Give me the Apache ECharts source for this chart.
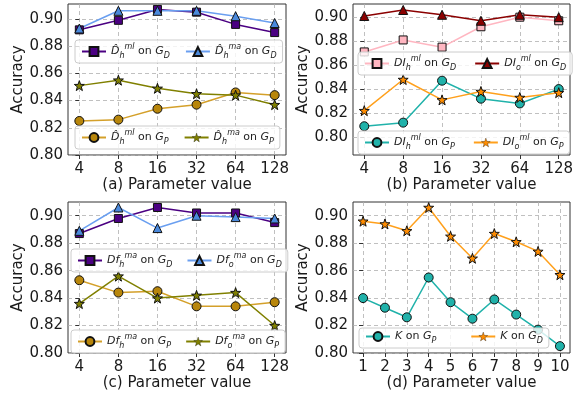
<!DOCTYPE html>
<html>
<head>
<meta charset="utf-8">
<script src="https://cdn.jsdelivr.net/npm/echarts@6/dist/echarts.min.js"></script>
<style>
  html, body { margin: 0; padding: 0; background: #fff; }
  #chart { width: 585px; height: 396px; }
</style>
</head>
<body>
<div id="chart"></div>
<script>
// x categories
const paramCats = ["4", "8", "16", "32", "64", "128"];
const kCats = ["1", "2", "3", "4", "5", "6", "7", "8", "9", "10"];
const yTicks = [0.80, 0.82, 0.84, 0.86, 0.88, 0.90];

// (a)
const aMlGD = [0.892, 0.899, 0.907, 0.905, 0.896, 0.890];
const aMaGD = [0.893, 0.906, 0.906, 0.906, 0.902, 0.897];
const aMlGP = [0.825, 0.826, 0.834, 0.837, 0.846, 0.844];
const aMaGP = [0.851, 0.855, 0.849, 0.845, 0.844, 0.837];
// (b)
const bHGD = [0.871, 0.881, 0.875, 0.892, 0.900, 0.897];
const bOGD = [0.901, 0.906, 0.902, 0.897, 0.902, 0.900];
const bHGP = [0.809, 0.812, 0.847, 0.832, 0.828, 0.840];
const bOGP = [0.822, 0.848, 0.831, 0.838, 0.833, 0.837];
// (c)
const cHGD = [0.887, 0.898, 0.906, 0.902, 0.902, 0.895];
const cOGD = [0.889, 0.906, 0.891, 0.900, 0.899, 0.898];
const cHGP = [0.853, 0.844, 0.845, 0.834, 0.834, 0.837];
const cOGP = [0.836, 0.856, 0.840, 0.842, 0.844, 0.820];
// (d)
const dGP = [0.840, 0.833, 0.826, 0.855, 0.837, 0.825, 0.839, 0.828, 0.817, 0.805];
const dGD = [0.896, 0.894, 0.889, 0.906, 0.885, 0.869, 0.887, 0.881, 0.874, 0.857];

const STAR = "path://M0,-10L2.35,-3.24L9.51,-3.09L3.8,1.24L5.88,8.09L0,4L-5.88,8.09L-3.8,1.24L-9.51,-3.09L-2.35,-3.24Z";
const FONT = "DejaVu Sans";

const chart = echarts.init(document.getElementById("chart"));

// legend label pieces: [base, sub, sup, graph]
const labels = {
  "a1": ["D\u0302", "h", "ml", "D"], "a2": ["D\u0302", "h", "ma", "D"],
  "a3": ["D\u0302", "h", "ml", "P"], "a4": ["D\u0302", "h", "ma", "P"],
  "b1": ["DI", "h", "ml", "D"], "b2": ["DI", "o", "ml", "D"],
  "b3": ["DI", "h", "ml", "P"], "b4": ["DI", "o", "ml", "P"],
  "c1": ["Df", "h", "ma", "D"], "c2": ["Df", "o", "ma", "D"],
  "c3": ["Df", "h", "ma", "P"], "c4": ["Df", "o", "ma", "P"],
  "d1": ["K", "", "", "P"], "d2": ["K", "", "", "D"]
};
function fmtLegend(name) {
  const p = labels[name];
  let s = "{i|" + p[0] + "}";
  if (p[1]) s += "{sub|" + p[1] + "}{sup|" + p[2] + "}";
  return s + "{n| on }{i|G}{sub|" + p[3] + "}";
}

const rich = {
  i: { fontFamily: FONT, fontStyle: "italic", fontSize: 11, lineHeight: 17, color: "#222" },
  n: { fontFamily: FONT, fontSize: 11, lineHeight: 17, color: "#222" },
  sub: { fontFamily: FONT, fontStyle: "italic", fontSize: 8, lineHeight: 8, verticalAlign: "bottom", color: "#222" },
  sup: { fontFamily: FONT, fontStyle: "italic", fontSize: 8, lineHeight: 8, verticalAlign: "top", color: "#222" }
};

const grids = [
  { left: 68, right: 299, top: 4, bottom: 241 },
  { left: 353, right: 15, top: 4, bottom: 241 },
  { left: 68, right: 299, top: 202, bottom: 43 },
  { left: 353, right: 15, top: 202, bottom: 43 }
].map(g => Object.assign(g, { show: true, borderColor: "#333", borderWidth: 1, backgroundColor: "transparent" }));

const gridLine = { show: true, lineStyle: { color: "#b0b0b0", type: [4, 3], width: 0.8 } };

function xAxis(idx, cats, pad, title) {
  const vals = cats.map((c, i) => i);
  return {
    type: "value", gridIndex: idx,
    min: -pad, max: cats.length - 1 + pad,
    axisLine: { show: false },
    axisTick: { show: true, length: 4, customValues: vals, lineStyle: { color: "#333" } },
    axisLabel: { customValues: vals, formatter: v => cats[Math.round(v)], fontFamily: FONT, fontSize: 15, color: "#1a1a1a", margin: 7 },
    splitLine: gridLine,
    name: title, nameLocation: "middle", nameGap: 23,
    nameTextStyle: { fontFamily: FONT, fontSize: 15, color: "#1a1a1a" }
  };
}
function yAxis(idx, min, max) {
  return {
    type: "value", gridIndex: idx, min: min, max: max,
    axisLine: { show: false },
    axisTick: { show: true, length: 4, customValues: yTicks, lineStyle: { color: "#333" } },
    axisLabel: { customValues: yTicks, formatter: v => v.toFixed(2), fontFamily: FONT, fontSize: 15, color: "#1a1a1a", margin: 5 },
    splitLine: gridLine,
    name: "Accuracy", nameLocation: "middle", nameGap: 37,
    nameTextStyle: { fontFamily: FONT, fontSize: 15, color: "#1a1a1a" }
  };
}

function line(name, idx, data, color, face, symbol, size) {
  return {
    name: name, type: "line", xAxisIndex: idx, yAxisIndex: idx,
    data: data.map((v, i) => [i, v]),
    symbol: symbol, symbolSize: size,
    lineStyle: { color: color, width: 1.5 },
    itemStyle: { color: face, borderColor: "#111", borderWidth: 1 },
    emphasis: { disabled: true },
    z: 3
  };
}

// star legend icons get a thinner outline (path icons scale their stroke)
function item(name) {
  const star = ["a4", "b4", "c4", "d2"].indexOf(name) >= 0;
  return star ? { name: name, itemStyle: { borderWidth: 0.35 } } : { name: name };
}

function legend(names, left, top, gap) {
  return {
    data: names.map(item), left: left, top: top,
    orient: "horizontal", itemGap: gap, itemWidth: 24, itemHeight: 11,
    padding: [3, 6, 3, 6],
    backgroundColor: "rgba(255,255,255,0.8)", borderColor: "#ccc", borderWidth: 1, borderRadius: 3,
    formatter: fmtLegend,
    textStyle: { rich: rich },
    selectedMode: false
  };
}

const INDIGO = "#4B0082", BLUE_L = "#6a9ff0", BLUE_F = "#4a89dc";
const GOLD_L = "#d4a02a", GOLD_F = "#b8860b", OLIVE = "#808000";
const DRED = "#8B0000", PINK = "#FFB6C1", TEAL = "#20B2AA", ORANGE_L = "#FFA01c", ORANGE_F = "#FF8C00";

const option = {
  backgroundColor: "#fff",
  animation: false,
  grid: grids,
  xAxis: [
    xAxis(0, paramCats, 0.29, "(a) Parameter value"),
    xAxis(1, paramCats, 0.29, "(b) Parameter value"),
    xAxis(2, paramCats, 0.29, "(c) Parameter value"),
    xAxis(3, kCats, 0.46, "(d) Parameter value")
  ],
  yAxis: [
    yAxis(0, 0.80, 0.911),
    yAxis(1, 0.785, 0.911),
    yAxis(2, 0.80, 0.910),
    yAxis(3, 0.80, 0.910)
  ],
  legend: [
    legend(["a1", "a2"], 75, 40, 15),
    legend(["a3", "a4"], 75, 126, 15),
    legend(["b1", "b2"], 358, 52, 18),
    legend(["b3", "b4"], 358, 131, 18),
    legend(["c1", "c2"], 71, 249, 14),
    legend(["c3", "c4"], 71, 330, 14),
    legend(["d1", "d2"], 359, 328, 34)
  ],
  series: [
    line("a1", 0, aMlGD, INDIGO, INDIGO, "rect", 8),
    line("a2", 0, aMaGD, BLUE_L, BLUE_F, "triangle", 9),
    line("a3", 0, aMlGP, GOLD_L, GOLD_F, "circle", 9),
    line("a4", 0, aMaGP, OLIVE, OLIVE, STAR, 10),
    line("b1", 1, bHGD, PINK, PINK, "rect", 8),
    line("b2", 1, bOGD, DRED, DRED, "triangle", 9),
    line("b3", 1, bHGP, TEAL, TEAL, "circle", 9),
    line("b4", 1, bOGP, ORANGE_L, ORANGE_F, STAR, 10),
    line("c1", 2, cHGD, INDIGO, INDIGO, "rect", 8),
    line("c2", 2, cOGD, BLUE_L, BLUE_F, "triangle", 9),
    line("c3", 2, cHGP, GOLD_L, GOLD_F, "circle", 9),
    line("c4", 2, cOGP, OLIVE, OLIVE, STAR, 10),
    line("d1", 3, dGP, TEAL, TEAL, "circle", 9),
    line("d2", 3, dGD, ORANGE_L, ORANGE_F, STAR, 10)
  ]
};

chart.setOption(option);
</script>
</body>
</html>
